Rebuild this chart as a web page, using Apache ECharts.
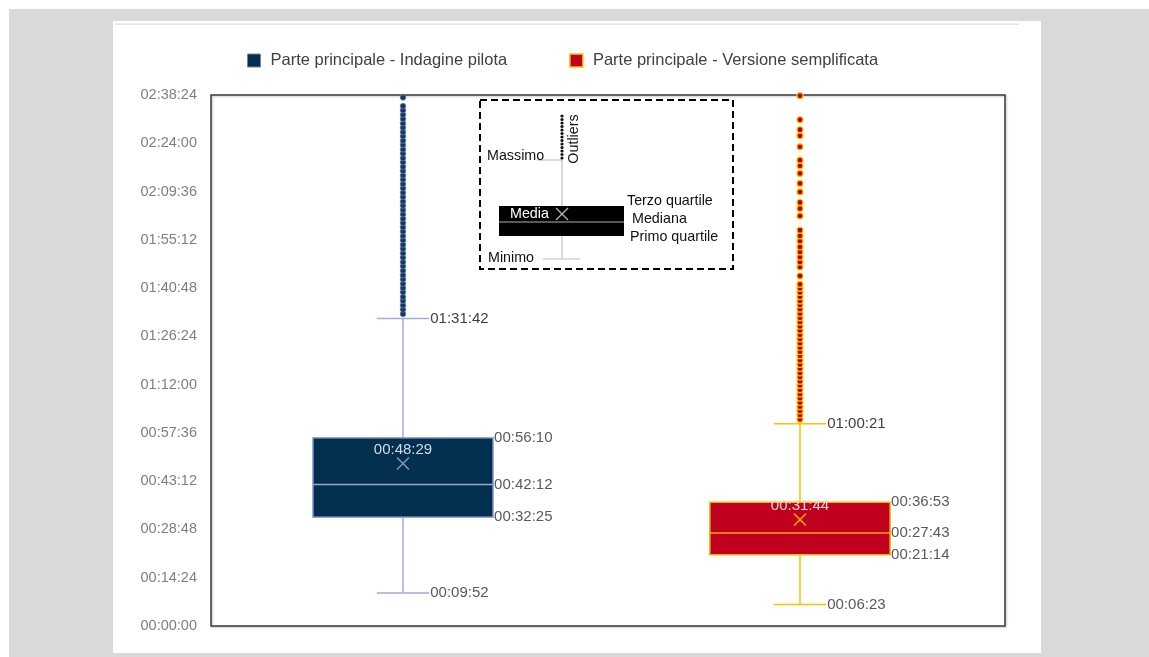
<!DOCTYPE html>
<html>
<head>
<meta charset="utf-8">
<script src="https://cdn.jsdelivr.net/npm/echarts@6/dist/echarts.min.js"></script>
<style>
  html, body { margin: 0; padding: 0; background: #ffffff; }
  #chart { width: 1149px; height: 657px; }
</style>
</head>
<body>
<div id="chart"></div>
<script>
// Durations of the main part of the questionnaire (hh:mm:ss)
const categories = ['Indagine pilota', 'Versione semplificata'];
const seriesNames = ['Parte principale - Indagine pilota', 'Parte principale - Versione semplificata'];

// [minimo, primo quartile, mediana, terzo quartile, massimo]
const pilotStats = ['00:09:52', '00:32:25', '00:42:12', '00:56:10', '01:31:42'];
const pilotMean = '00:48:29';
const simplStats = ['00:06:23', '00:21:14', '00:27:43', '00:36:53', '01:00:21'];
const simplMean = '00:31:44';

const pilotOutliers = [
  '01:33:05', '01:34:25', '01:35:40', '01:37:00', '01:38:10', '01:39:35', '01:40:50', '01:42:05',
  '01:43:25', '01:44:40', '01:46:00', '01:47:20', '01:48:35', '01:49:55', '01:51:10', '01:52:30',
  '01:53:45', '01:55:05', '01:56:20', '01:57:40', '01:58:55', '02:00:15', '02:01:30', '02:02:50',
  '02:04:05', '02:05:25', '02:06:40', '02:08:00', '02:09:15', '02:10:35', '02:11:50', '02:13:10',
  '02:14:25', '02:15:45', '02:17:00', '02:18:20', '02:19:35', '02:20:55', '02:22:10', '02:23:30',
  '02:24:45', '02:26:05', '02:27:20', '02:28:40', '02:29:55', '02:31:15', '02:32:30', '02:33:50',
  '02:35:05', '02:37:40'
];
const simplOutliers = [
  '01:01:40', '01:02:55', '01:04:10', '01:05:25', '01:06:40', '01:07:58', '01:09:12', '01:10:28',
  '01:11:45', '01:13:00', '01:14:15', '01:15:30', '01:16:48', '01:18:02', '01:19:18', '01:20:35',
  '01:21:50', '01:23:05', '01:24:20', '01:25:38', '01:26:52', '01:28:10', '01:29:25', '01:30:40',
  '01:31:55', '01:33:12', '01:34:30', '01:35:45', '01:36:58', '01:38:15', '01:39:30', '01:40:43',
  '01:41:55', '01:44:24', '01:47:05', '01:48:35', '01:50:04', '01:51:34', '01:53:04', '01:54:51',
  '01:56:21', '01:58:03', '02:02:20', '02:04:32', '02:06:20', '02:09:30', '02:12:01', '02:15:00',
  '02:17:16', '02:18:58', '02:22:57', '02:26:14', '02:28:02', '02:31:01', '02:38:11'
];

// Axis: 00:00:00 to 02:38:24 in steps of 00:14:24
const yMin = '00:00:00';
const yMax = '02:38:24';
const yStep = '00:14:24';

const toSec = s => s.split(':').reduce((a, b) => a * 60 + Number(b), 0);
const pad = n => String(n).padStart(2, '0');
const fmt = sec => {
  sec = Math.round(sec);
  return pad(Math.floor(sec / 3600)) + ':' + pad(Math.floor(sec / 60) % 60) + ':' + pad(sec % 60);
};

const FONT = '"Liberation Sans", Arial, sans-serif';

const styles = [
  { fill: '#04304f', edge: '#9aa3da', whisker: '#a3abdc', median: '#9aa3da', mean: '#8a93c6', meanText: '#d2dbea',
    dot: '#17375e', dotEdge: '#5878a8' },
  { fill: '#c0001f', edge: '#f2b400', whisker: '#ffc000', median: '#f0a020', mean: '#f5a300', meanText: '#f4d8d8',
    dot: '#c00000', dotEdge: '#ffc000' }
];

function makeRender(st) {
  return function (params, api) {
    const cat = api.value(0);
    const mn = api.value(1), q1 = api.value(2), med = api.value(3), q3 = api.value(4), mx = api.value(5), mean = api.value(6);
    const band = api.size([1, 0])[0];
    const cx = api.coord([cat, 0])[0];
    const y = v => api.coord([cat, v])[1];
    const half = band * 0.227;
    const cap = band * 0.066;
    const lineW = 1.5;
    const labelStyle = (text, x, yy, align, color) => ({
      type: 'text',
      style: { text: text, x: x, y: yy, align: align, verticalAlign: 'middle', fill: color, font: '15px ' + FONT }
    });
    const ln = (x1, y1, x2, y2, color) => ({
      type: 'line', shape: { x1: x1, y1: y1, x2: x2, y2: y2 }, style: { stroke: color, lineWidth: lineW }
    });
    const m = 6;
    const my = y(mean);
    return {
      type: 'group',
      children: [
        ln(cx, y(q3), cx, y(mx), st.whisker),
        ln(cx, y(q1), cx, y(mn), st.whisker),
        ln(cx - cap, y(mx), cx + cap, y(mx), st.whisker),
        ln(cx - cap, y(mn), cx + cap, y(mn), st.whisker),
        {
          type: 'rect',
          shape: { x: cx - half, y: y(q3), width: half * 2, height: y(q1) - y(q3) },
          style: { fill: st.fill, stroke: st.edge, lineWidth: lineW }
        },
        ln(cx - half, y(med), cx + half, y(med), st.median),
        ln(cx - m, my - m, cx + m, my + m, st.mean),
        ln(cx - m, my + m, cx + m, my - m, st.mean),
        labelStyle(fmt(mean), cx, my - 14, 'center', st.meanText),
        labelStyle(fmt(q3), cx + half + 1, y(q3), 'left', '#5a5a5a'),
        labelStyle(fmt(med), cx + half + 1, y(med), 'left', '#5a5a5a'),
        labelStyle(fmt(q1), cx + half + 1, y(q1), 'left', '#5a5a5a'),
        labelStyle(fmt(mx), cx + cap + 1, y(mx), 'left', '#404040'),
        labelStyle(fmt(mn), cx + cap + 1, y(mn), 'left', '#5a5a5a')
      ]
    };
  };
}

const boxData = [
  [0].concat(pilotStats.map(toSec), [toSec(pilotMean)]),
  [1].concat(simplStats.map(toSec), [toSec(simplMean)])
];
const outlierData = [
  pilotOutliers.map(t => [0, toSec(t)]),
  simplOutliers.map(t => [1, toSec(t)])
];

const gridBox = { left: 211, top: 95, width: 794, height: 531 };

// Key to reading the box plot, drawn inside the plot area
const KEY_FONT = '14.3px ' + FONT;
const keyText = (text, x, y, color) => ({
  type: 'text', z: 20,
  style: { text: text, x: x, y: y, verticalAlign: 'middle', fill: color || '#111', font: KEY_FONT }
});
const keyLine = (x1, y1, x2, y2, color) => ({
  type: 'line', z: 20, shape: { x1: x1, y1: y1, x2: x2, y2: y2 }, style: { stroke: color, lineWidth: 1.2 }
});
const keyDots = [];
for (let i = 0; i < 13; i++) {
  keyDots.push({ type: 'circle', z: 21, shape: { cx: 562, cy: 116 + i * 3.5, r: 1.6 }, style: { fill: '#111' } });
}

const option = {
  animation: false,
  graphic: [
    { type: 'rect', z: -10, silent: true, shape: { x: 9, y: 9, width: 1140, height: 648 }, style: { fill: '#d9d9d9' } },
    { type: 'rect', z: -9, silent: true, shape: { x: 113, y: 21, width: 928, height: 632 }, style: { fill: '#ffffff' } },
    { type: 'rect', z: -8, silent: true, shape: { x: 115, y: 23.5, width: 904, height: 1.5 }, style: { fill: '#e3e3e3' } },
    { type: 'rect', z: 19, shape: { x: 480, y: 100, width: 253, height: 169 },
      style: { fill: '#ffffff', stroke: '#000', lineWidth: 2, lineDash: [7, 4] } },
    keyLine(562, 160, 562, 259, '#c0c0c0'),
    keyLine(537, 160, 562, 160, '#c0c0c0'),
    keyLine(543, 259, 580, 259, '#c0c0c0'),
    { type: 'rect', z: 20, shape: { x: 499, y: 206, width: 125, height: 30 }, style: { fill: '#000' } },
    keyLine(499, 222, 624, 222, '#b0b0b0'),
    keyLine(556, 208, 568, 220, '#b8b8b8'),
    keyLine(556, 220, 568, 208, '#b8b8b8'),
    ...keyDots,
    keyText('Massimo', 487, 156),
    keyText('Minimo', 488, 258),
    keyText('Media', 510, 214, '#ffffff'),
    keyText('Terzo quartile', 627, 201),
    keyText('Mediana', 632, 219),
    keyText('Primo quartile', 630, 237),
    { type: 'text', z: 20, x: 574, y: 139, rotation: Math.PI / 2,
      style: { text: 'Outliers', align: 'center', verticalAlign: 'middle', fill: '#111', font: KEY_FONT } }
  ],
  legend: {
    left: 242, top: 47, icon: 'rect', itemWidth: 13, itemHeight: 13, itemGap: 62,
    textStyle: { fontFamily: FONT, fontSize: 16.5, color: '#404040', padding: [0, 0, 0, 5] },
    data: [
      { name: seriesNames[0], itemStyle: { color: styles[0].fill, borderColor: '#6f7fb8', borderWidth: 1 } },
      { name: seriesNames[1], itemStyle: { color: styles[1].fill, borderColor: '#ffc000', borderWidth: 1.5 } }
    ]
  },
  grid: [
    Object.assign({ show: true, borderColor: '#3a3a3a', borderWidth: 1.5, backgroundColor: 'transparent',
      shadowColor: 'rgba(0,0,0,0.25)', shadowBlur: 2, shadowOffsetX: 1, shadowOffsetY: 1 }, gridBox),
    { left: 204.5, top: 95, width: 794, height: 531 }
  ],
  xAxis: [
    { gridIndex: 0, type: 'value', show: false, min: 0, max: 1 },
    { gridIndex: 1, type: 'category', data: categories, show: false, boundaryGap: true }
  ],
  yAxis: [
    { gridIndex: 0, type: 'value', min: toSec(yMin), max: toSec(yMax), interval: toSec(yStep),
      axisLine: { show: false }, axisTick: { show: false }, splitLine: { show: false },
      axisLabel: { formatter: v => fmt(v), color: '#7f7f7f', fontFamily: FONT, fontSize: 14.5, margin: 14 } },
    { gridIndex: 1, type: 'value', min: toSec(yMin), max: toSec(yMax), interval: toSec(yStep), show: false }
  ],
  series: [
    { name: seriesNames[0], type: 'custom', xAxisIndex: 1, yAxisIndex: 1, renderItem: makeRender(styles[0]),
      itemStyle: { color: styles[0].fill }, encode: { x: 0, y: [1, 2, 3, 4, 5, 6] }, data: [boxData[0]], z: 2 },
    { name: seriesNames[1], type: 'custom', xAxisIndex: 1, yAxisIndex: 1, renderItem: makeRender(styles[1]),
      itemStyle: { color: styles[1].fill }, encode: { x: 0, y: [1, 2, 3, 4, 5, 6] }, data: [boxData[1]], z: 2 },
    { name: seriesNames[0], type: 'scatter', xAxisIndex: 1, yAxisIndex: 1, symbol: 'circle', symbolSize: 5.5, z: 3,
      itemStyle: { color: styles[0].dot, borderColor: styles[0].dotEdge, borderWidth: 0.8, opacity: 1 },
      data: outlierData[0] },
    { name: seriesNames[1], type: 'scatter', xAxisIndex: 1, yAxisIndex: 1, symbol: 'circle', symbolSize: 6, z: 3,
      itemStyle: { color: styles[1].dot, borderColor: styles[1].dotEdge, borderWidth: 1.2, opacity: 1 },
      data: outlierData[1] }
  ]
};

const chart = echarts.init(document.getElementById('chart'), null, { renderer: 'canvas' });
chart.setOption(option);
</script>
</body>
</html>
